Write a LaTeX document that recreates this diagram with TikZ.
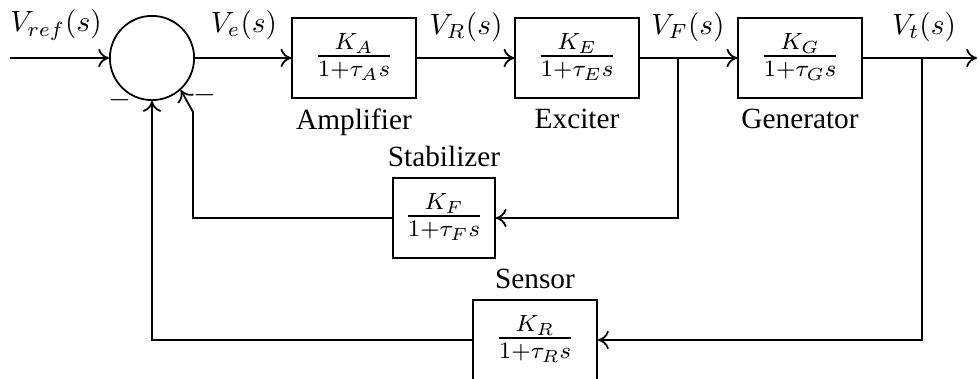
\documentclass[tikz,border=0pt]{standalone}
\usepackage{amsmath,amssymb}
\usepackage[no-math]{fontspec}
\setmainfont{Liberation Serif}
\usepackage{tikz}
\usetikzlibrary{arrows.meta,positioning}

\begin{document}
\begin{tikzpicture}[x=0.012cm, y=-0.012cm, >={To[length=1.3mm,width=2.2mm]}, line width=0.6pt,
  blk/.style={draw, inner sep=2.6pt, text height=13.4pt, text depth=8.7pt, anchor=mid, font=\fontsize{11.5pt}{14pt}\selectfont},
  fwd/.style={blk, minimum width=1.48cm}]
\useasboundingbox (0,0) rectangle (979,379);
\node[draw, circle, minimum size=1.01cm, inner sep=0pt] (sum) at (152,58) {};
\coordinate (in) at (10,58);
\node[fwd] (amp) at (354,58) {$\frac{K_A}{1+\tau_A s}$};
\node[fwd] (exc) at (577,58) {$\frac{K_E}{1+\tau_E s}$};
\node[fwd] (gen) at (800,58) {$\frac{K_G}{1+\tau_G s}$};
\coordinate (out) at (977,58);
\coordinate (bF) at (678,58);
\coordinate (bT) at (922,58);
\node[blk, minimum width=1.22cm] (stab) at (444,218) {$\frac{K_F}{1+\tau_F s}$};
\node[blk, minimum width=1.49cm] (sens) at (535,340) {$\frac{K_R}{1+\tau_R s}$};
\coordinate (kink) at (193,112);
\node[below=0pt of amp] (ampl) {Amplifier};
\node[below=0pt of exc] (excl) {Exciter};
\node[below=0pt of gen] (genl) {Generator};
\node[above=0pt of stab] (stabl) {Stabilizer};
\node[above=0pt of sens] (sensl) {Sensor};
\node (vref) at (56,25) {$V_{ref}(s)$};
\node (ve) at (244,25) {$V_e(s)$};
\node (vr) at (466,27) {$V_R(s)$};
\node (vf) at (688,27) {$V_F(s)$};
\node (vt) at (924,27) {$V_t(s)$};
\node (m1) at (120,100) {$-$};
\node (m2) at (205,95) {$-$};
\draw[->] (in) -- (sum.west);
\draw[->] (sum.east) -- (amp.mid west);
\draw[->] (amp.mid east) -- (exc.mid west);
\draw[->] (exc.mid east) -- (gen.mid west);
\draw[->] (gen.mid east) -- (out);
\draw[->] (bF) |- (stab.mid east);
\draw[->] (stab.mid west) -| (kink) -- (sum.-48);
\draw[->] (bT) |- (sens.mid east);
\draw[->] (sens.mid west) -| (sum.south);
\end{tikzpicture}
\end{document}
